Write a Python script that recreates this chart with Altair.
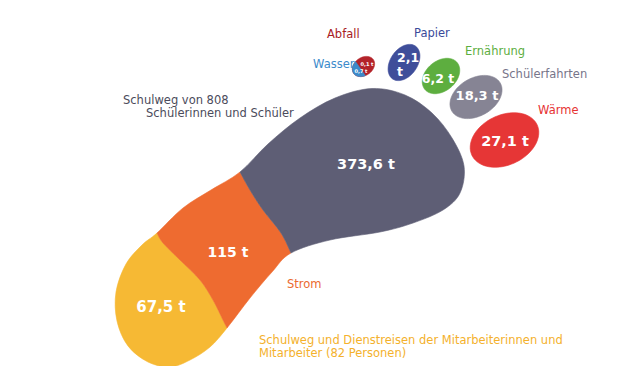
import altair as alt
import pandas as pd
import numpy as np

# ---------------- data ----------------
categories = ["Mitarbeiter", "Strom", "Schüler", "Wärme", "Schülerfahrten",
              "Ernährung", "Papier", "Abfall", "Wasser"]
values_t = [67.5, 115, 373.6, 27.1, 18.3, 6.2, 2.1, 0.1, 0.7]
colors = ["#F6B934", "#EE6B30", "#5E5E75", "#E63636", "#868494",
          "#5DAE3F", "#3F4E9A", "#B3232A", "#3C8BCB"]
label_colors = ["#F4B12C", "#EB6A30", "#4B4B5B", "#E63333", "#77758A",
                "#5DAE3F", "#3A4A9A", "#A8201F", "#3C8BCB"]
label_lines = [
    ["Schulweg und Dienstreisen der Mitarbeiterinnen und", "Mitarbeiter (82 Personen)"],
    ["Strom"],
    ["Schulweg von 808", "Schülerinnen und Schüler"],
    ["Wärme"], ["Schülerfahrten"], ["Ernährung"], ["Papier"], ["Abfall"], ["Wasser"],
]

# ---------------- layout (page pixels) ----------------
value_pos = [(161, 307), (228, 253), (366, 165), (505, 142), (477, 96),
             (438, 79), (397, 58), (367, 64), (361, 71)]
value_size = [15, 14, 14.5, 14.5, 13, 12.5, 12.5, 5, 5]
label_pos = [[(259, 341), (259, 354)], [(287, 285)], [(123, 101), (146, 114)],
             [(538, 111)], [(502, 75)], [(465, 52)], [(414, 34)], [(327, 35)], [(313, 65)]]

# toes: centre x, centre y, half axes, tilt
toes = {"Wärme": (504.5, 140, 36, 25, -25),
        "Schülerfahrten": (476, 97, 28, 19, -30),
        "Ernährung": (441, 76, 21, 15, -40),
        "Papier": (404, 62.5, 20, 13.5, -55),
        "Abfall": (363.5, 66.5, 12, 9, -35)}

# foot outline guide points (outer loop, clockwise) and inner boundaries
A, B, C, D = (240, 172), (291, 253), (157, 233), (227, 328)
outer = [A, (268, 144), (300, 118), (335, 98), (372, 88.5), (405, 95), (432, 113), (452, 138),
         (464, 166), (460, 193), (443, 210), (413, 223), (380, 232), (330, 240),
         B, (272, 272), (250, 298), D, (210, 347), (190, 360), (170, 367), (148, 362),
         (128, 346), (117, 321), (116, 292), (126, 264), (142, 245), C, (183, 208), (211, 190)]
dark_orange = [B, (281, 233), (263, 210), (250, 190), A]
orange_yellow = [C, (163, 243), (180, 260), (200, 280), (213, 300), (223, 320), D]


def bez(p0, p1, p2, p3):
    c1 = (p1[0] + (p2[0] - p0[0]) / 6, p1[1] + (p2[1] - p0[1]) / 6)
    c2 = (p2[0] - (p3[0] - p1[0]) / 6, p2[1] - (p3[1] - p1[1]) / 6)
    return (c1, c2, p2)


def open_segs(points):
    n = len(points)
    out = []
    for i in range(n - 1):
        p0 = points[i - 1] if i > 0 else points[i]
        p3 = points[i + 2] if i + 2 < n else points[i + 1]
        out.append(bez(p0, points[i], points[i + 1], p3))
    return out


def loop_segs(points):
    n = len(points)
    return [bez(points[(i - 1) % n], points[i], points[(i + 1) % n], points[(i + 2) % n])
            for i in range(n)]


OUTER = loop_segs(outer)


def along(p_from, p_to):
    i, j = outer.index(p_from), outer.index(p_to)
    n = len(outer)
    res = []
    k = i
    while k != j:
        res.append(OUTER[k])
        k = (k + 1) % n
    return res


def path_from(start, seg_lists, ax, ay):
    s = f"M{start[0] - ax:.2f},{start[1] - ay:.2f}"
    for segs in seg_lists:
        for c1, c2, p in segs:
            s += (f" C{c1[0] - ax:.2f},{c1[1] - ay:.2f} {c2[0] - ax:.2f},{c2[1] - ay:.2f}"
                  f" {p[0] - ax:.2f},{p[1] - ay:.2f}")
    return s + " Z"


def ellipse_pts(cx, cy, a, b, rot, n=90):
    th = np.radians(rot)
    pts = []
    for k in range(n):
        t = 2 * np.pi * k / n
        x, y = a * np.cos(t), b * np.sin(t)
        pts.append((cx + x * np.cos(th) - y * np.sin(th), cy + x * np.sin(th) + y * np.cos(th)))
    return pts


def poly(pts, ax, ay):
    return "M" + " L".join(f"{x - ax:.2f},{y - ay:.2f}" for x, y in pts) + " Z"


shape_rows = []
# foot
ax, ay = value_pos[0]
shape_rows.append(dict(x=ax, y=ay, c=colors[0],
                       path=path_from(D, [along(D, C), open_segs(orange_yellow)], ax, ay)))
ax, ay = value_pos[1]
shape_rows.append(dict(x=ax, y=ay, c=colors[1],
                       path=path_from(B, [along(B, D), open_segs(orange_yellow[::-1]),
                                          along(C, A), open_segs(dark_orange[::-1])], ax, ay)))
ax, ay = value_pos[2]
shape_rows.append(dict(x=ax, y=ay, c=colors[2],
                       path=path_from(A, [along(A, B), open_segs(dark_orange)], ax, ay)))
# toes
for i, name in enumerate(categories[3:8], start=3):
    cx, cy, a, b, r = toes[name]
    shape_rows.append(dict(x=cx, y=cy, path=poly(ellipse_pts(cx, cy, a, b, r), cx, cy), c=colors[i]))
# Wasser part of the small toe
cx, cy, a, b, r = toes["Abfall"]
pts = ellipse_pts(cx, cy, a, b, r)
p1, p2 = (356, 62), (367, 77)
side = [(p2[0] - p1[0]) * (p[1] - p1[1]) - (p2[1] - p1[1]) * (p[0] - p1[0]) > 0 for p in pts]
start = next(k for k in range(len(pts)) if not side[k])
order = pts[start:] + pts[:start]
sorder = side[start:] + side[:start]
blue = [p for p, s in zip(order, sorder) if s]
shape_rows.append(dict(x=cx, y=cy, path=poly(blue, cx, cy), c=colors[8]))
shapes = pd.DataFrame(shape_rows)


def fmt(v):
    s = f"{v:.1f}".replace(".", ",")
    if s.endswith(",0"):
        s = s[:-2]
    return s + " t"


vals = pd.DataFrame(dict(text=[fmt(v) for v in values_t],
                         x=[p[0] for p in value_pos], y=[p[1] for p in value_pos],
                         s=value_size, cat=categories))
vals_center = vals[vals.cat != "Papier"]
vals_papier = vals[vals.cat == "Papier"]

lab_rows = []
for i, lines in enumerate(label_lines):
    for line, (lx, ly) in zip(lines, label_pos[i]):
        lab_rows.append(dict(text=line, x=lx, y=ly, c=label_colors[i]))
labels = pd.DataFrame(lab_rows)

# ---------------- chart ----------------
xs = alt.Scale(domain=[8, 616], range=[0, 608], nice=False, zero=False)
ys = alt.Scale(domain=[8, 366], range=[0, 358], nice=False, zero=False)
X = alt.X("x:Q", scale=xs, axis=None)
Y = alt.Y("y:Q", scale=ys, axis=None)

shape_layer = alt.Chart(shapes).mark_point(filled=True, opacity=1, size=4, strokeWidth=0.6).encode(
    x=X, y=Y,
    shape=alt.Shape("path:N", scale=None, legend=None),
    fill=alt.Fill("c:N", scale=None, legend=None),
    stroke=alt.Stroke("c:N", scale=None, legend=None),
)

val_layer = alt.Chart(vals_center).mark_text(
    font="DejaVu Sans", fontWeight="bold", color="white", align="center", baseline="middle"
).encode(x=X, y=Y, text="text:N", size=alt.Size("s:Q", scale=None, legend=None))

pap_layer = alt.Chart(vals_papier).mark_text(
    font="DejaVu Sans", fontWeight="bold", color="white", align="left", baseline="middle",
    lineBreak=" ", lineHeight=14
).encode(x=X, y=Y, text="text:N", size=alt.Size("s:Q", scale=None, legend=None))

lab_layer = alt.Chart(labels).mark_text(
    font="DejaVu Sans", fontSize=11.5, align="left", baseline="middle"
).encode(x=X, y=Y, text="text:N", color=alt.Color("c:N", scale=None, legend=None))

chart = alt.layer(shape_layer, val_layer, pap_layer, lab_layer).properties(
    width=608, height=358,
    autosize=alt.AutoSizeParams(type="none"),
    padding=0,
    background="white",
).configure_view(stroke=None)

chart.save("out.html", embed_options={"renderer": "svg", "actions": False})
